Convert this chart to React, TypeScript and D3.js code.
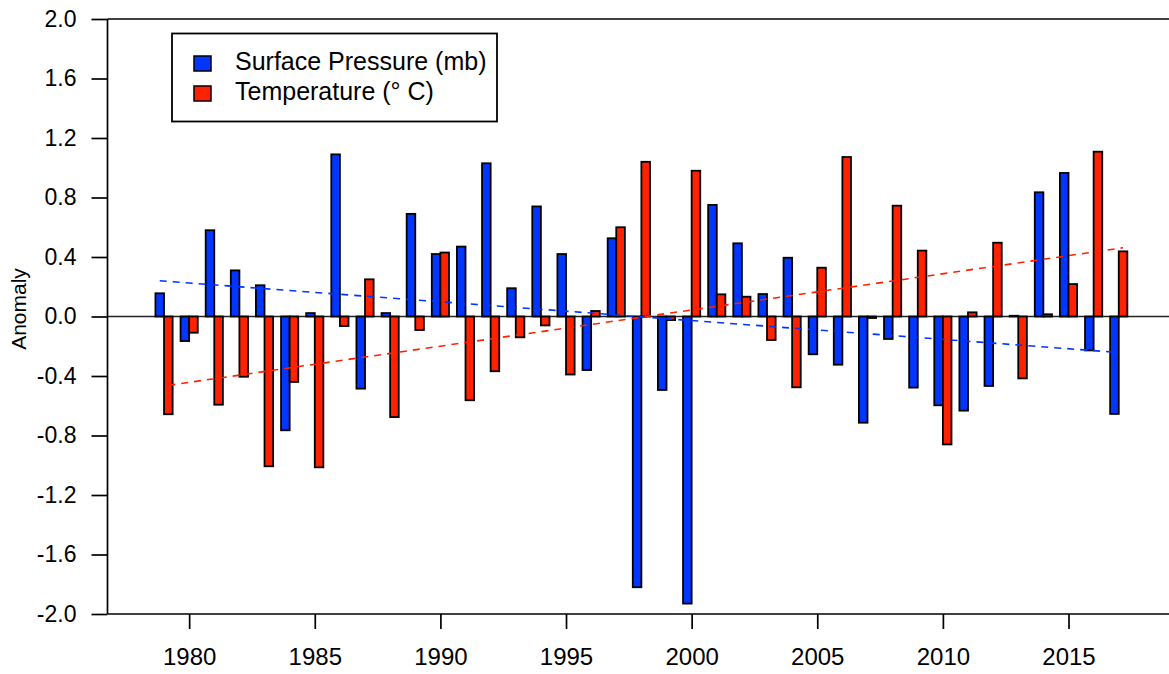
import React, { useEffect, useRef } from 'react';
import * as d3 from 'd3';

// Annual anomalies
const years = d3.range(1979, 2018);
const pressure = [
  0.156, -0.165, 0.58, 0.31, 0.21, -0.765, 0.023, 1.09, -0.485, 0.023,
  0.69, 0.42, 0.47, 1.03, 0.19, 0.74, 0.42, -0.36, 0.526, -1.82,
  -0.494, -1.93, 0.75, 0.492, 0.151, 0.395, -0.254, -0.324, -0.714, -0.151,
  -0.478, -0.597, -0.633, -0.467, 0.005, 0.835, 0.965, -0.228, -0.655,
];
const temperature = [
  -0.657, -0.109, -0.593, -0.405, -1.007, -0.44, -1.014, -0.064, 0.25, -0.676,
  -0.091, 0.43, -0.563, -0.368, -0.14, -0.06, -0.39, 0.037, 0.6, 1.04,
  -0.024, 0.98, 0.149, 0.133, -0.158, -0.476, 0.328, 1.072, -0.01, 0.745,
  0.443, -0.86, 0.028, 0.496, -0.416, 0.015, 0.218, 1.108, 0.438,
];

// Trend line end points
const trendYears = [1979, 2017];
const pressureTrend = [0.24, -0.24];
const temperatureTrend = [-0.463, 0.462];

const yTicks = [-2, -1.6, -1.2, -0.8, -0.4, 0, 0.4, 0.8, 1.2, 1.6, 2];
const yTickLabels = ['-2.0', '-1.6', '-1.2', '-0.8', '-0.4', '0.0', '0.4', '0.8', '1.2', '1.6', '2.0'];
const xTicks = [1980, 1985, 1990, 1995, 2000, 2005, 2010, 2015];

const seriesNames = ['Surface Pressure (mb)', 'Temperature (\u00b0 C)'];

const BLUE = '#0036ff';
const RED = '#ff2200';
const FONT = '"Liberation Sans", Arial, sans-serif';

const App: React.FC = () => {
  const ref = useRef<SVGSVGElement>(null);

  useEffect(() => {
    if (!ref.current) return;
    const svg = d3.select(ref.current);
    svg.selectAll('*').remove();

    const width = 1169;
    const left = 107.5;
    const top = 19;
    const bottom = 614;

    const x = d3.scaleLinear().domain([1976.75, 2019]).range([left, width]);
    const y = d3.scaleLinear().domain([-2, 2]).range([bottom, top]);
    const barW = 8.6;

    // frame lines
    svg.append('line')
      .attr('x1', left).attr('x2', width).attr('y1', top).attr('y2', top)
      .attr('stroke', '#000').attr('stroke-width', 1.7);
    svg.append('line')
      .attr('x1', left).attr('x2', width).attr('y1', bottom).attr('y2', bottom)
      .attr('stroke', '#000').attr('stroke-width', 1.7);
    svg.append('line')
      .attr('x1', left).attr('x2', left).attr('y1', top).attr('y2', bottom)
      .attr('stroke', '#000').attr('stroke-width', 1.7);

    // Y axis
    const yAxis = svg.append('g')
      .attr('transform', `translate(${left},0)`)
      .call(d3.axisLeft(y)
        .tickValues(yTicks)
        .tickSize(16)
        .tickSizeOuter(0)
        .tickPadding(15)
        .tickFormat((_, i) => yTickLabels[i]));
    yAxis.select('.domain').remove();
    yAxis.selectAll('line').attr('stroke', '#000').attr('stroke-width', 1.7);
    yAxis.selectAll('text')
      .attr('font-family', FONT)
      .attr('font-size', 23)
      .attr('fill', '#000');

    // X axis
    const xAxis = svg.append('g')
      .attr('transform', `translate(0,${bottom})`)
      .call(d3.axisBottom(x)
        .tickValues(xTicks)
        .tickSize(15)
        .tickSizeOuter(0)
        .tickPadding(19)
        .tickFormat(d => String(d)));
    xAxis.select('.domain').remove();
    xAxis.selectAll('line').attr('stroke', '#000').attr('stroke-width', 1.7);
    xAxis.selectAll('text')
      .attr('font-family', FONT)
      .attr('font-size', 24)
      .attr('fill', '#000');

    // Y label
    svg.append('text')
      .attr('transform', `translate(26,309) rotate(-90)`)
      .attr('text-anchor', 'middle')
      .attr('font-family', FONT)
      .attr('font-size', 21)
      .attr('fill', '#000')
      .text('Anomaly');

    // zero line
    svg.append('line')
      .attr('x1', left).attr('x2', width).attr('y1', y(0)).attr('y2', y(0))
      .attr('stroke', '#222').attr('stroke-width', 1.6);

    const rows = years.map((yr, i) => ({ yr, p: pressure[i], t: temperature[i] }));

    // bars
    svg.append('g').selectAll('rect')
      .data(rows)
      .join('rect')
      .attr('x', d => x(d.yr) - barW)
      .attr('y', d => y(Math.max(0, d.p)))
      .attr('width', barW)
      .attr('height', d => Math.abs(y(d.p) - y(0)))
      .attr('fill', BLUE)
      .attr('stroke', '#000')
      .attr('stroke-width', 1.8);

    svg.append('g').selectAll('rect')
      .data(rows)
      .join('rect')
      .attr('x', d => x(d.yr))
      .attr('y', d => y(Math.max(0, d.t)))
      .attr('width', barW)
      .attr('height', d => Math.abs(y(d.t) - y(0)))
      .attr('fill', RED)
      .attr('stroke', '#000')
      .attr('stroke-width', 1.8);

    // trend lines
    const trend = (vals: number[], offset: number) =>
      d3.line<number>()
        .x((_, i) => x(trendYears[i]) + offset)
        .y(d => y(d))(vals);

    svg.append('path')
      .attr('d', trend(pressureTrend, -barW / 2))
      .attr('fill', 'none')
      .attr('stroke', BLUE)
      .attr('stroke-width', 1.6)
      .attr('stroke-dasharray', '7,6');

    svg.append('path')
      .attr('d', trend(temperatureTrend, barW / 2))
      .attr('fill', 'none')
      .attr('stroke', RED)
      .attr('stroke-width', 1.6)
      .attr('stroke-dasharray', '7,6');

    // legend
    const legend = svg.append('g');
    legend.append('rect')
      .attr('x', 172).attr('y', 33.5)
      .attr('width', 325).attr('height', 88)
      .attr('fill', '#fff')
      .attr('stroke', '#000')
      .attr('stroke-width', 1.8);

    [BLUE, RED].forEach((c, i) => {
      legend.append('rect')
        .attr('x', 194).attr('y', 56 + i * 30)
        .attr('width', 17).attr('height', 15)
        .attr('fill', c)
        .attr('stroke', '#000')
        .attr('stroke-width', 1.5);
      legend.append('text')
        .attr('x', 235).attr('y', 70 + i * 29.5)
        .attr('font-family', FONT)
        .attr('font-size', 25)
        .attr('fill', '#000')
        .text(seriesNames[i]);
    });
  }, []);

  return (
    <div style={{ position: 'absolute', left: 0, top: 0 }}>
      <svg ref={ref} width={1169} height={674} style={{ display: 'block', background: '#fff' }} />
    </div>
  );
};

export default App;
